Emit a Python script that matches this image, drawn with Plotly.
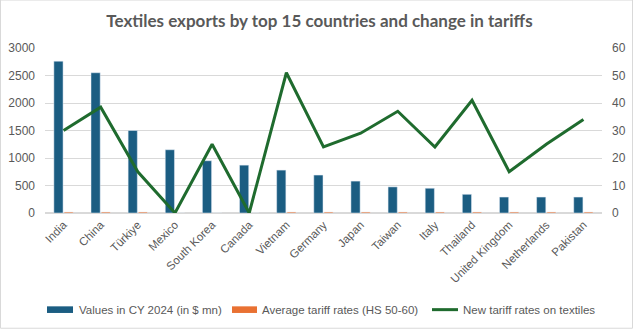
import plotly.graph_objects as go

countries = ["India", "China", "Türkiye", "Mexico", "South Korea", "Canada", "Vietnam",
             "Germany", "Japan", "Taiwan", "Italy", "Thailand", "United Kingdom",
             "Netherlands", "Pakistan"]
export_values = [2760, 2550, 1500, 1150, 950, 870, 780, 690, 580, 475, 450, 340, 290, 290, 290]
avg_tariff = [18, 18, 18, 0, 0, 0, 18, 18, 18, 18, 18, 18, 18, 18, 18]
new_tariff = [30, 38.5, 15, 0, 25, 0, 51, 24, 29, 37, 24, 41, 15, 25, 34]

left_ticks = [0, 500, 1000, 1500, 2000, 2500, 3000]
right_ticks = [0, 10, 20, 30, 40, 50, 60]

series_names = ["Values in CY 2024 (in $ mn)", "Average tariff rates (HS 50-60)",
                "New tariff rates on textiles"]

BLUE = "#1B5D82"
ORANGE = "#E97132"
GREEN = "#1F6B2E"
TXT = "#595959"
GRID = "#D9D9D9"
FONT = "Liberation Sans, Arial, sans-serif"

fig = go.Figure()
fig.add_trace(go.Bar(x=countries, y=export_values, name=series_names[0],
                     marker_color=BLUE, yaxis="y", showlegend=False))
fig.add_trace(go.Bar(x=countries, y=avg_tariff, name=series_names[1],
                     marker_color=ORANGE, yaxis="y", showlegend=False))
fig.add_trace(go.Scatter(x=countries, y=new_tariff, name=series_names[2],
                         mode="lines", line=dict(color=GREEN, width=3), yaxis="y2",
                         showlegend=False))

# plot area in pixels: x 45..602, y 48.3..212.7
pl, pr, pt, pb = 45, 602, 48.3, 212.7
pw, ph = pr - pl, pb - pt

def px2x(x):
    return (x - pl) / pw

def px2y(y):
    return (pb - y) / ph

shapes = [dict(type="rect", xref="paper", yref="paper",
               x0=px2x(0.5), x1=px2x(632.5), y0=px2y(327.5), y1=px2y(0.5),
               line=dict(color=GRID, width=1), fillcolor="rgba(0,0,0,0)", layer="below")]
annotations = []

# manual legend
leg_y = 309
legend_items = [(47, 73, 77, BLUE, "bar"), (232, 257, 260, ORANGE, "bar"), (432, 458, 461, GREEN, "line")]
for (x0, x1, xt, col, kind), name in zip(legend_items, series_names):
    if kind == "bar":
        shapes.append(dict(type="rect", xref="paper", yref="paper",
                           x0=px2x(x0), x1=px2x(x1), y0=px2y(leg_y + 3.3), y1=px2y(leg_y - 3.3),
                           line=dict(width=0), fillcolor=col))
    else:
        shapes.append(dict(type="line", xref="paper", yref="paper",
                           x0=px2x(x0), x1=px2x(x1), y0=px2y(leg_y), y1=px2y(leg_y),
                           line=dict(color=col, width=3)))
    annotations.append(dict(text=name, xref="paper", yref="paper", x=px2x(xt), y=px2y(leg_y),
                            xanchor="left", yanchor="middle", showarrow=False,
                            font=dict(family=FONT, size=11.5, color=TXT)))

fig.update_layout(
    width=639, height=329,
    margin=dict(l=pl, r=639 - pr, t=pt, b=329 - pb, autoexpand=False),
    paper_bgcolor="white", plot_bgcolor="white",
    barmode="group", bargap=0.45, bargroupgap=0.1,
    font=dict(family=FONT, size=12, color=TXT),
    showlegend=False,
    title=dict(text="<b>Textiles exports by top 15 countries and change in tariffs</b>",
               x=0.5, xref="container", xanchor="center",
               y=1 - 21 / 329, yref="container", yanchor="middle",
               font=dict(family="Lato, Open Sans, sans-serif", size=17, color=TXT)),
    xaxis=dict(tickangle=-45, showgrid=False, showline=False, ticks="", automargin=False,
               tickfont=dict(size=11.5, color=TXT), ticklabelstandoff=2),
    yaxis=dict(range=[0, 3000], tickvals=left_ticks, showgrid=True, gridcolor=GRID,
               gridwidth=1, zeroline=True, zerolinecolor=GRID, showline=False, ticks="",
               automargin=False, tickfont=dict(size=12, color=TXT), ticklabelstandoff=9),
    yaxis2=dict(range=[0, 60], tickvals=right_ticks, overlaying="y", side="right",
                showgrid=False, zeroline=False, showline=False, ticks="", automargin=False,
                tickfont=dict(size=12, color=TXT), ticklabelstandoff=9),
    shapes=shapes,
    annotations=annotations,
)

fig.write_html("out.html")
